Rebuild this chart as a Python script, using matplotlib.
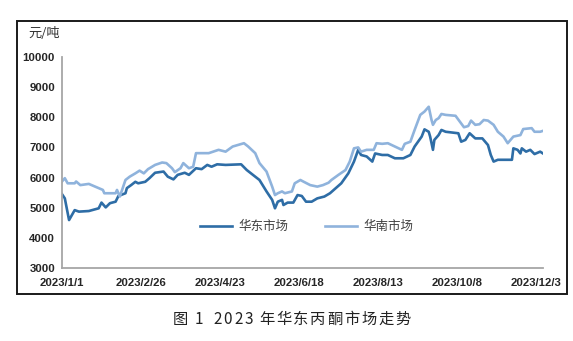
import matplotlib.pyplot as plt
from matplotlib.patches import Rectangle
import numpy as np

plt.rcParams['font.family'] = ['Noto Sans CJK SC', 'DejaVu Sans']

# East China acetone price (yuan/ton)
east_dates = ["2023-01-01", "2023-01-03", "2023-01-06", "2023-01-10", "2023-01-13", "2023-01-20",
              "2023-01-27", "2023-01-29", "2023-02-01", "2023-02-04", "2023-02-08", "2023-02-10",
              "2023-02-15", "2023-02-16", "2023-02-19", "2023-02-22", "2023-02-24", "2023-03-01",
              "2023-03-04", "2023-03-08", "2023-03-14", "2023-03-17", "2023-03-21", "2023-03-24",
              "2023-03-29", "2023-04-01", "2023-04-06", "2023-04-10", "2023-04-14", "2023-04-17",
              "2023-04-21", "2023-04-27", "2023-05-08", "2023-05-12", "2023-05-15", "2023-05-21",
              "2023-05-26", "2023-05-30", "2023-06-01", "2023-06-03", "2023-06-06", "2023-06-07",
              "2023-06-10", "2023-06-14", "2023-06-17", "2023-06-20", "2023-06-23", "2023-06-27",
              "2023-07-01", "2023-07-06", "2023-07-10", "2023-07-18", "2023-07-23", "2023-07-27",
              "2023-07-30", "2023-08-01", "2023-08-05", "2023-08-09", "2023-08-11", "2023-08-16",
              "2023-08-20", "2023-08-25", "2023-08-31", "2023-09-05", "2023-09-08", "2023-09-13",
              "2023-09-15", "2023-09-18", "2023-09-19", "2023-09-21", "2023-09-22", "2023-09-25",
              "2023-09-27", "2023-09-30", "2023-10-09", "2023-10-11", "2023-10-14", "2023-10-17",
              "2023-10-21", "2023-10-26", "2023-10-28", "2023-10-30", "2023-11-01", "2023-11-03",
              "2023-11-06", "2023-11-16", "2023-11-17", "2023-11-20", "2023-11-22", "2023-11-23",
              "2023-11-26", "2023-11-29", "2023-12-02", "2023-12-06", "2023-12-08"]
east_price = [5450, 5310, 4590, 4920, 4870, 4890,
              4980, 5170, 5010, 5150, 5200, 5390,
              5480, 5650, 5750, 5860, 5810, 5860,
              5980, 6160, 6200, 6030, 5940, 6090,
              6160, 6090, 6310, 6280, 6420, 6360,
              6440, 6420, 6440, 6250, 6140, 5920,
              5540, 5260, 4980, 5200, 5260, 5090,
              5170, 5170, 5420, 5390, 5200, 5200,
              5310, 5370, 5480, 5810, 6140, 6530,
              6920, 6750, 6700, 6530, 6800, 6750,
              6750, 6640, 6640, 6750, 7030, 7360,
              7600, 7520, 7360, 6920, 7250, 7410,
              7580, 7520, 7470, 7190, 7250, 7470,
              7300, 7300, 7190, 7080, 6750, 6530,
              6590, 6590, 6970, 6920, 6800, 6970,
              6860, 6920, 6780, 6860, 6800]

# South China acetone price (yuan/ton)
south_dates = ["2023-01-01", "2023-01-03", "2023-01-05", "2023-01-10", "2023-01-11", "2023-01-14",
               "2023-01-20", "2023-01-27", "2023-01-30", "2023-01-31", "2023-02-08", "2023-02-09",
               "2023-02-11", "2023-02-15", "2023-02-18", "2023-02-22", "2023-02-25", "2023-02-28",
               "2023-03-03", "2023-03-08", "2023-03-13", "2023-03-16", "2023-03-20", "2023-03-22",
               "2023-03-26", "2023-03-28", "2023-04-01", "2023-04-04", "2023-04-06", "2023-04-15",
               "2023-04-22", "2023-04-27", "2023-05-02", "2023-05-10", "2023-05-13", "2023-05-18",
               "2023-05-21", "2023-05-26", "2023-05-30", "2023-06-01", "2023-06-03", "2023-06-06",
               "2023-06-08", "2023-06-13", "2023-06-15", "2023-06-19", "2023-06-21", "2023-06-26",
               "2023-07-01", "2023-07-05", "2023-07-09", "2023-07-11", "2023-07-16", "2023-07-21",
               "2023-07-24", "2023-07-27", "2023-07-30", "2023-08-01", "2023-08-05", "2023-08-10",
               "2023-08-12", "2023-08-16", "2023-08-20", "2023-08-25", "2023-08-30", "2023-09-01",
               "2023-09-05", "2023-09-08", "2023-09-12", "2023-09-15", "2023-09-18", "2023-09-20",
               "2023-09-21", "2023-09-23", "2023-09-25", "2023-09-27", "2023-09-30", "2023-10-07",
               "2023-10-10", "2023-10-13", "2023-10-16", "2023-10-18", "2023-10-21", "2023-10-24",
               "2023-10-27", "2023-10-30", "2023-11-03", "2023-11-06", "2023-11-10", "2023-11-13",
               "2023-11-17", "2023-11-22", "2023-11-24", "2023-11-30", "2023-12-02", "2023-12-06",
               "2023-12-08"]
south_price = [5870, 5980, 5810, 5810, 5870, 5750,
               5790, 5650, 5590, 5480, 5480, 5590,
               5370, 5920, 6030, 6140, 6230, 6140,
               6280, 6420, 6500, 6480, 6310, 6180,
               6310, 6480, 6310, 6360, 6810, 6810,
               6920, 6860, 7030, 7140, 7030, 6810,
               6480, 6200, 5700, 5420, 5480, 5540,
               5480, 5540, 5810, 5920, 5870, 5750,
               5700, 5750, 5830, 5920, 6090, 6250,
               6530, 6970, 7000, 6860, 6920, 6920,
               7140, 7120, 7140, 7030, 6920, 7120,
               7190, 7580, 8080, 8190, 8350, 7910,
               7750, 7910, 7970, 8110, 8080, 8050,
               7860, 7670, 7710, 7890, 7750, 7770,
               7910, 7890, 7750, 7520, 7360, 7140,
               7360, 7410, 7610, 7640, 7520, 7520,
               7550]

tick_dates = ["2023-01-01", "2023-02-26", "2023-04-23", "2023-06-18",
              "2023-08-13", "2023-10-08", "2023-12-03"]
tick_labels = ["2023/1/1", "2023/2/26", "2023/4/23", "2023/6/18",
               "2023/8/13", "2023/10/8", "2023/12/3"]
y_ticks = [3000, 4000, 5000, 6000, 7000, 8000, 9000, 10000]

caption = "图 1  2023 年华东丙酮市场走势"

east_color = "#2e6da6"
south_color = "#8fb3dc"


def spaced_caption(fig, text, x_center, y, spacing=1.8, space_width=4.5, **kw):
  """
  Writes text one character at a time with extra letter spacing (pixels),
  centred on x_center (figure fraction).
  """
  renderer = fig.canvas.get_renderer()
  fig_w = fig.bbox.width
  widths = []
  for ch in text:
    if ch == " ":
      widths.append(space_width)
      continue
    t = fig.text(0, 0, ch, **kw)
    widths.append(t.get_window_extent(renderer).width + spacing)
    t.remove()
  total = sum(widths) - spacing
  x = x_center * fig_w - total / 2
  for ch, w in zip(text, widths):
    if ch != " ":
      fig.text(x / fig_w, y, ch, ha="left", va="center", **kw)
    x += w


fig = plt.figure(figsize=(5.73, 3.41), dpi=100)
ax = fig.add_axes([0.1082, 0.2141, 0.8394, 0.6187])

ax.plot(np.array(east_dates, dtype="datetime64[D]"), east_price,
        color=east_color, lw=1.9, label="华东市场", solid_joinstyle="round")
ax.plot(np.array(south_dates, dtype="datetime64[D]"), south_price,
        color=south_color, lw=1.9, label="华南市场", solid_joinstyle="round")

ax.set_ylim(3000, 10000)
ax.set_yticks(y_ticks)
ax.set_xlim(np.datetime64("2023-01-01"), np.datetime64("2023-12-08"))
ax.set_xticks(np.array(tick_dates, dtype="datetime64[D]"))
ax.set_xticklabels(tick_labels)

# only left and bottom axis lines, grey, no tick marks
for side in ["top", "right"]:
  ax.spines[side].set_visible(False)
for side in ["left", "bottom"]:
  ax.spines[side].set_color("#a6a6a6")
  ax.spines[side].set_linewidth(1.3)
ax.tick_params(axis="both", length=0)
ax.tick_params(axis="y", pad=5)
ax.tick_params(axis="x", pad=7)
for lbl in ax.get_xticklabels() + ax.get_yticklabels():
  lbl.set_family(["Liberation Sans", "DejaVu Sans"])
  lbl.set_fontweight("bold")
  lbl.set_fontsize(8.2)
  lbl.set_color("#262626")

fig.text(0.049, 0.903, "元/吨", fontsize=9.5, color="#333333", va="center")

fig.legend(loc="center", bbox_to_anchor=(0.535, 0.335), ncol=2, frameon=False,
           fontsize=9, handlelength=2.6, handletextpad=0.5, columnspacing=2.9,
           labelcolor="#404040")

# black frame around the chart area
fig.patches.append(Rectangle((0.0297, 0.1378), 0.9599, 0.8006, transform=fig.transFigure,
                             fill=False, edgecolor="#1a1a1a", linewidth=1.4))

spaced_caption(fig, caption, 0.509, 0.064, fontsize=11, color="#222222")

plt.savefig("out.png", dpi=100)
